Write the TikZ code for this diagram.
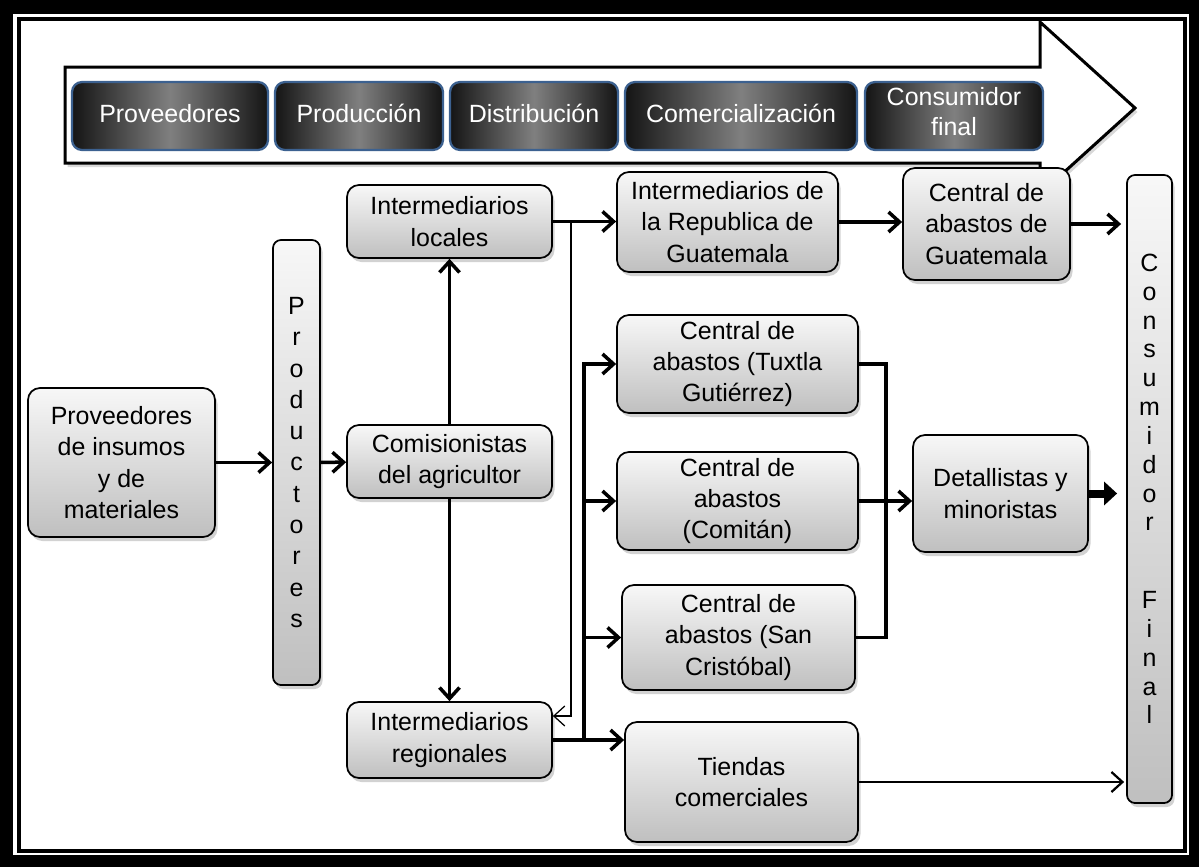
\documentclass[tikz,border=0pt]{standalone}
\usepackage{fontspec}
\setmainfont{Liberation Sans}
\usetikzlibrary{arrows.meta, positioning, shadows}

\definecolor{stageblue}{HTML}{3C6190}

\begin{document}
\begin{tikzpicture}[x=0.2mm, y=-0.2mm, >={Straight Barb[length=2.2mm,width=4mm]},
  box/.style={draw=black, line width=0.35mm, rounded corners=2.4mm, top color=gray!6, bottom color=gray!50,
    drop shadow={shadow xshift=0.5mm, shadow yshift=-0.8mm, opacity=0.35},
    align=center, inner sep=0pt, font=\fontsize{14.2}{17.8}\selectfont},
  stage/.style={draw=stageblue, line width=0.45mm, rounded corners=2mm, left color=black!92, right color=black!92,
    middle color=black!50, text=white, minimum height=13.6mm, align=center, inner sep=0pt,
    execute at begin node=\strut, font=\fontsize{14.2}{17.2}\selectfont},
  link/.style={->, line width=0.7mm},
  thinlink/.style={->, line width=0.25mm},
  fatlink/.style={-{Triangle[length=2.6mm,width=4.6mm]}, line width=1.6mm}]

\useasboundingbox (0,0) rectangle (1199,867);

% frame
\fill[black] (0,0) rectangle (1199,867);
\fill[white] (13,14) rectangle (1189,855);
\draw[line width=0.8mm] (19,19) rectangle (1185,851);

% stages arrow
\draw[line width=0.6mm, fill=white, drop shadow={shadow xshift=0.5mm, shadow yshift=-0.8mm, opacity=0.3}]
  (65,67) -- (1040,67) -- (1040,22) -- (1135,108) -- (1040,194) -- (1040,163) -- (65,163) -- cycle;

\node[stage, minimum width=39.2mm] (sprov) at (170,116) {Proveedores};
\node[stage, minimum width=33.6mm] (sprod) at (359,116) {Producción};
\node[stage, minimum width=33.6mm] (sdist) at (534,116) {Distribución};
\node[stage, minimum width=46.4mm] (scom) at (741,116) {Comercialización};
\node[stage, minimum width=35.6mm] (scons) at (954,116) {Consumidor\\final};

% actors
\node[box, minimum width=37.4mm, minimum height=29.8mm] (prov) at (121.5,462.5) {Proveedores\\de insumos\\y de\\materiales};
\node[box, rounded corners=1.6mm, minimum width=9.4mm, minimum height=89mm] (prod) at (296.5,462.5) {P\\r\\o\\d\\u\\c\\t\\o\\r\\e\\s};
\node[box, minimum width=41mm, minimum height=14.6mm] (intloc) at (449.5,221.5) {Intermediarios\\locales};
\node[box, minimum width=41mm, minimum height=14.6mm] (comis) at (449.5,461.5) {Comisionistas\\del agricultor};
\node[box, minimum width=41mm, minimum height=15.2mm] (intreg) at (449.5,740) {Intermediarios\\regionales};
\node[box, minimum width=44.2mm, minimum height=20mm] (intgua) at (727.5,222) {Intermediarios de\\la Republica de\\Guatemala};
\node[box, minimum width=33.4mm, minimum height=22.4mm] (cagua) at (986.5,224) {Central de\\abastos de\\Guatemala};
\node[box, minimum width=48.2mm, minimum height=19.6mm] (catux) at (737.5,364) {Central de\\abastos (Tuxtla\\Gutiérrez)};
\node[box, minimum width=48.2mm, minimum height=19.6mm] (cacom) at (737.5,501) {Central de\\abastos\\(Comitán)};
\node[box, minimum width=46.6mm, minimum height=21mm] (casan) at (738.5,637.5) {Central de\\abastos (San\\Cristóbal)};
\node[box, minimum width=46.6mm, minimum height=24mm] (tiendas) at (741.5,782) {Tiendas\\comerciales};
\node[box, minimum width=35mm, minimum height=23.4mm] (detal) at (1000.5,493.5) {Detallistas y\\minoristas};
\node[box, rounded corners=1.6mm, minimum width=9mm, minimum height=125.6mm, font=\fontsize{14.2}{16.4}\selectfont] (consf) at (1149.5,489)
  {C\\o\\n\\s\\u\\m\\i\\d\\o\\r\\[9.8mm]F\\i\\n\\a\\l};

% flows
\draw[link] (prov) -- (prod);
\draw[link] (prod) -- (comis);
\draw[link] (comis) -- (intloc);
\draw[link] (comis) -- (intreg);
\draw[link] (intloc) -- (intloc -| intgua.west);
\draw[thinlink] ([xshift=3.6mm]intloc.east) |- ([yshift=4.8mm]intreg.east);
\draw[link] (intgua) -- (intgua -| cagua.west);
\draw[link] (cagua) -- ([xshift=-1mm]cagua -| consf.west);

% regional branch
\coordinate (regbus) at ([xshift=6.2mm]intreg.east);
\draw[link] (intreg.east) -- (intreg.east -| tiendas.west);
\draw[link] (regbus) |- (catux.west);
\draw[link] (regbus |- cacom.west) -- (cacom.west);
\draw[link] (regbus |- casan.west) -- (casan.west);

% central markets to retail
\coordinate (retbus) at ([xshift=5.4mm]cacom.east);
\draw[line width=0.7mm] (catux.east) -| (retbus) |- (casan.east);
\draw[link] (cacom.east) -- (cacom.east -| detal.west);
\draw[fatlink] (detal.east) -- ([xshift=-1.8mm]detal.east -| consf.west);
\draw[link, line width=0.45mm] (tiendas.east) -- ([xshift=-0.4mm]tiendas.east -| consf.west);

\end{tikzpicture}
\end{document}
